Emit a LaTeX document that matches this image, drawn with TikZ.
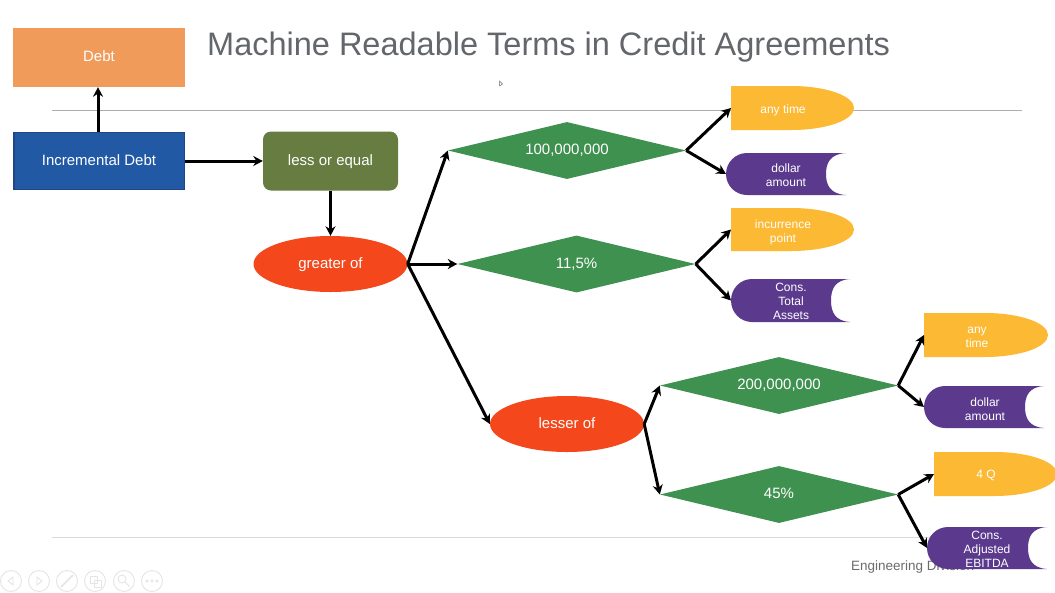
\documentclass[tikz,border=0pt]{standalone}
\usepackage{fontspec}
\setmainfont{Liberation Sans}
\usetikzlibrary{arrows.meta,shapes.geometric}
\definecolor{cdebt}{HTML}{F09B59}
\definecolor{cblue}{HTML}{2259A5}
\definecolor{cblueb}{HTML}{1F4788}
\definecolor{cgreen}{HTML}{667C41}
\definecolor{cred}{HTML}{F4471B}
\definecolor{cdia}{HTML}{3F9150}
\definecolor{cyel}{HTML}{FBB934}
\definecolor{cpur}{HTML}{5B3A8E}
\definecolor{ctitle}{HTML}{63666A}
\tikzset{
  lab/.style={text=white,font=\fontsize{15}{15}\selectfont,inner sep=0pt,align=center,text height=11pt,text depth=3pt},
  small/.style={text=white,font=\fontsize{12}{14}\selectfont,inner sep=0pt,align=center},
  boxn/.style={lab,minimum width=172pt,minimum height=59pt},
  dia/.style={lab,diamond,fill=cdia,shape aspect=4.2,minimum width=238pt,minimum height=57pt},
  ell/.style={lab,ellipse,fill=cred,minimum width=154pt,minimum height=56pt},
  conn/.style={draw=black,line width=3pt,-{Stealth[length=9.5pt,width=10pt]}},
  rule/.style={line width=1pt},
  tool/.style={draw=black!10,line width=0.9pt}
}
% name, x0, y0, x1, y1, text x, text y, text
\newcommand{\yelshape}[8]{%
  \pgfmathsetmacro{\xm}{#2+0.49*(#4-#2)}%
  \fill[cyel] (#2,#3) -- (\xm,#3) .. controls ({\xm+0.55*(#4-\xm)},#3) and (#4,{#3+0.22*(#5-#3)}) .. (#4,{0.5*(#3+#5)})
     .. controls (#4,{#5-0.22*(#5-#3)}) and ({\xm+0.55*(#4-\xm)},#5) .. (\xm,#5) -- (#2,#5) -- cycle;
  \coordinate (#1) at (#2,{0.5*(#3+#5)});
  \node[small] (#1t) at (#6,#7) {#8};
}
% name, x0, y0, notch left x, y1, tip x, text x, text y, text
\newcommand{\purshape}[9]{%
  \fill[cpur] ({#2+21},#3) -- (#6,#3) .. controls ({#4+4},{#3+1}) and (#4,{#3+10}) .. (#4,{0.5*(#3+#5)})
     .. controls (#4,{#5-10}) and ({#4+4},{#5-1}) .. (#6,#5) -- ({#2+21},#5)
     .. controls ({#2+9.4},#5) and (#2,{#5-9.4}) .. (#2,{0.5*(#3+#5)})
     .. controls (#2,{#3+9.4}) and ({#2+9.4},#3) .. ({#2+21},#3) -- cycle;
  \coordinate (#1) at (#2,{0.5*(#3+#5)});
  \node[small] (#1t) at (#7,#8) {#9};
}
\begin{document}
\begin{tikzpicture}[x=1pt,y=-1pt]
\useasboundingbox (0,0) rectangle (1055,592);
\begin{scope}
\clip (0,0) rectangle (1055,592);
\fill[white] (0,0) rectangle (1055,592);

% rules
\coordinate (rta) at (52,110); \coordinate (rtb) at (1022,110);
\coordinate (rba) at (52,537); \coordinate (rbb) at (960,537);
\draw[rule,draw=black!32] (rta) -- (rtb);
\draw[rule,draw=black!14] (rba) -- (rbb);

% title and footer
\node[anchor=base west,inner sep=0pt,text=ctitle,font=\fontsize{32.5}{36}\selectfont] (title) at (207,55) {Machine Readable Terms in Credit Agreements};
\node[anchor=base west,inner sep=0pt,text=black!58,font=\fontsize{13.5}{14}\selectfont] (foot) at (851,570) {Engineering Division};

% boxes
\node[boxn,fill=cdebt] (debt) at (99,57.5) {Debt};
\node[boxn,fill=cblue,draw=cblueb,line width=1.5pt,minimum width=170.5pt,minimum height=57pt] (inc) at (99,161) {Incremental Debt};
\node[lab,fill=cgreen,rounded corners=8pt,minimum width=135pt,minimum height=59pt] (less) at (330.5,161) {less or equal};
\node[ell] (great) at (330.5,264) {greater of};
\node[ell] (lesser) at (567,424) {lesser of};

% diamonds
\node[dia] (d1) at (567,150.5) {100,000,000};
\node[dia] (d2) at (576.5,264) {11,5\%};
\node[dia] (d3) at (779,385.5) {200,000,000};
\node[dia] (d4) at (779,494.5) {45\%};

% terminals
\yelshape{y1}{731}{86}{854}{130}{783}{110}{any time}
\purshape{p1}{726}{153}{826}{195}{846}{786}{175}{dollar\\amount}
\yelshape{y2}{731}{208}{854}{251}{783}{232}{incurrence\\point}
\purshape{p2}{731}{279}{831}{322}{850}{791}{301}{Cons.\\Total\\Assets}
\yelshape{y3}{924}{313}{1048}{357}{977}{337}{any\\time}
\purshape{p3}{924}{386}{1025}{428}{1044}{985}{409}{dollar\\amount}
\yelshape{y4}{934}{452}{1057}{496}{986}{475}{4 Q}
\purshape{p4}{927}{527}{1028}{569}{1047}{987}{549}{Cons.\\Adjusted\\EBITDA}

% connectors
\draw[conn] ([xshift=-1pt]inc.north) -- ([xshift=-1pt]debt.south);
\draw[conn] (inc.east) -- (less.west);
\draw[conn] (less.south) -- (great.north);
\draw[conn] (great.east) -- (d1.west);
\draw[conn] (great.east) -- (d2.west);
\draw[conn] (great.east) -- (lesser.west);
\draw[conn] (lesser.east) -- (d3.west);
\draw[conn] (lesser.east) -- (d4.west);
\draw[conn] (d1.east) -- (y1);
\draw[conn] (d1.east) -- (p1);
\draw[conn] (d2.east) -- (y2);
\draw[conn] (d2.east) -- (p2);
\draw[conn] (d3.east) -- (y3);
\draw[conn] (d3.east) -- (p3);
\draw[conn] (d4.east) -- (y4);
\draw[conn] (d4.east) -- (p4);

% viewer toolbar
\foreach \cx in {11,39,67,95,124,152} \draw[tool] (\cx,581) circle (10.5);
\draw[tool] (13,577) -- (8,581) -- (13,585) -- cycle;
\draw[tool] (37,577) -- (42,581) -- (37,585) -- cycle;
\draw[tool,line width=1.6pt] (61,587) -- (73,575);
\draw[tool] (90,576) rectangle (97,583);
\draw[tool] (94,580) rectangle (101,587);
\draw[tool] (122,579) circle (4);
\draw[tool] (125,582) -- (130,587);
\foreach \dx in {147,152,157} \draw[tool] (\dx,581) circle (1);

% cursor
\draw[black!60,line width=0.5pt] (499.5,81) -- (499.5,86) -- (502.5,84) -- cycle;
\end{scope}
\end{tikzpicture}
\end{document}
